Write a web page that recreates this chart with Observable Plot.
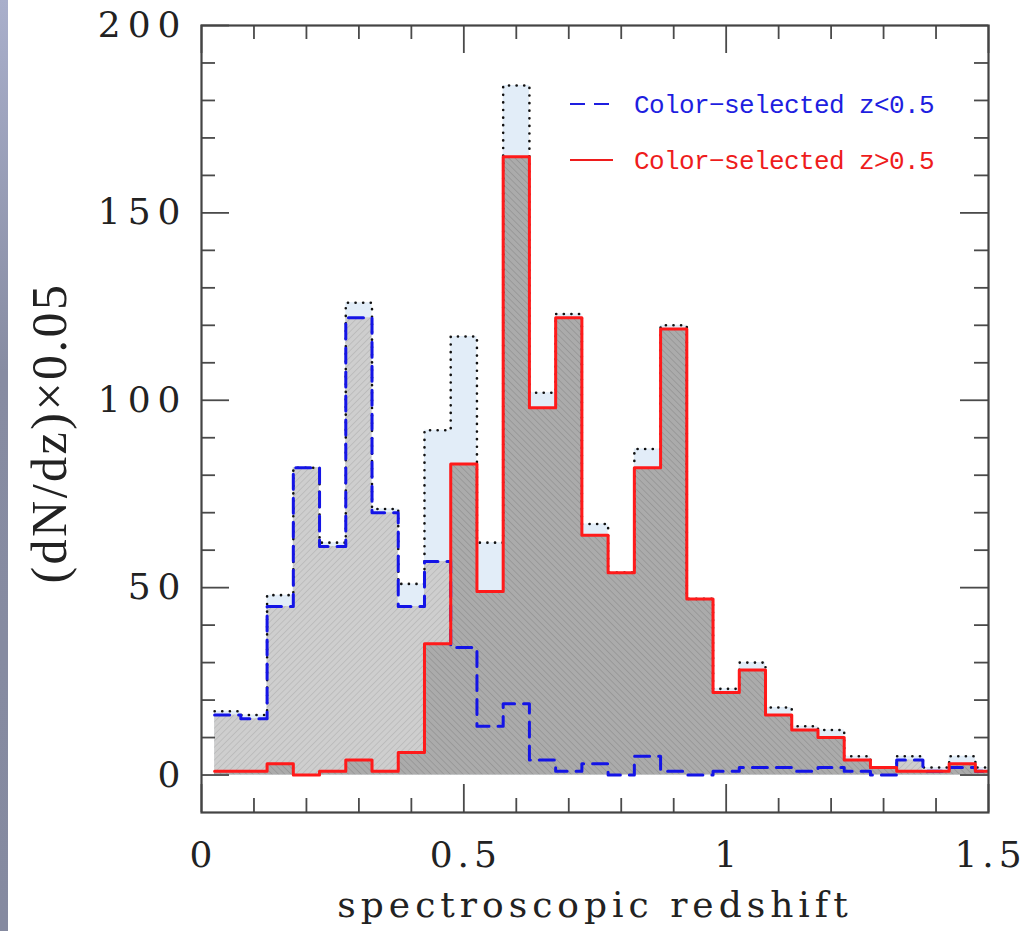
<!DOCTYPE html>
<html>
<head>
<meta charset="utf-8">
<script src="https://cdn.jsdelivr.net/npm/d3@7"></script>
<script src="https://cdn.jsdelivr.net/npm/@observablehq/plot@0.6"></script>
<style>
  html, body { margin: 0; padding: 0; background: #fff; }
  #wrap { position: relative; width: 1027px; height: 931px; overflow: hidden; }
  #stripe { position: absolute; left: 0; top: 0; width: 8px; height: 931px;
    background: linear-gradient(#a9afcb, #878ca2 40%, #858aa0); z-index: 2; }
</style>
</head>
<body>
<div id="wrap"><div id="stripe"></div></div>
<script>
// ---- data ----
const binCenters = [0.05,0.10,0.15,0.20,0.25,0.30,0.35,0.40,0.45,0.50,
                    0.55,0.60,0.65,0.70,0.75,0.80,0.85,0.90,0.95,1.00,
                    1.05,1.10,1.15,1.20,1.25,1.30,1.35,1.40,1.45,1.50];
const totalCounts = [17,16,48,82,62,126,71,51,92,117,
                     62,184,102,123,67,54,87,120,47,23,
                     30,18,13,12,5,2,5,2,5,2];
const lowZCounts  = [16,15,45,82,61,122,70,45,57,34,
                     13,19,4,1,3,0,5,1,0,1,
                     2,2,1,2,1,0,4,1,2,1];
const highZCounts = [1,1,3,0,1,4,1,6,35,83,
                     49,165,98,122,64,54,82,119,47,22,
                     28,16,12,10,4,2,1,1,3,1];
const xTickLabels = [0, 0.5, 1, 1.5];
const yTickLabels = [0, 50, 100, 150, 200];
const xMinorTicks = [0.1,0.2,0.3,0.4,0.6,0.7,0.8,0.9,1.1,1.2,1.3,1.4];
const yMinorTicks = [10,20,30,40,60,70,80,90,110,120,130,140,160,170,180,190];
const legendLabels = ["Color\u2212selected z<0.5", "Color\u2212selected z>0.5"];
const xTitle = "spectroscopic redshift";
const yTitle = "(dN/dz)\u00d70.05";

// ---- layout ----
const W = 1027, H = 931, ML = 201, MR = 39, MT = 25, MB = 119;
const xDom = [0, 1.5], yDom = [-10, 200];
const fw = W - ML - MR, fh = H - MT - MB;
const pxX = (xDom[1] - xDom[0]) / fw;   // data units per pixel
const pxY = (yDom[1] - yDom[0]) / fh;
const majorLen = 28, minorLen = 14;

const halfBin = (binCenters[1] - binCenters[0]) / 2;
function steps(vals) {
  return binCenters.flatMap((c, i) => [
    {x: c - halfBin, y: vals[i]},
    {x: c + halfBin, y: vals[i]}
  ]);
}
const totalPts = steps(totalCounts);
const lowPts = steps(lowZCounts);
const highPts = steps(highZCounts);

const xTicks = [...xTickLabels.map(v => ({v, len: majorLen})), ...xMinorTicks.map(v => ({v, len: minorLen}))];
const yTicks = [...yTickLabels.map(v => ({v, len: majorLen})), ...yMinorTicks.map(v => ({v, len: minorLen}))];

const tickColor = "#4a4a4a";
const plot = Plot.plot({
  width: W, height: H,
  marginLeft: ML, marginRight: MR, marginTop: MT, marginBottom: MB,
  x: {domain: xDom}, y: {domain: yDom},
  style: {background: "transparent", color: "#222"},
  marks: [
    Plot.areaY(totalPts, {x: "x", y1: 0, y2: "y", fill: "#e2edf8", clip: true}),
    Plot.areaY(lowPts, {x: "x", y1: 0, y2: "y", fill: "url(#hatchLight)", clip: true}),
    Plot.areaY(highPts, {x: "x", y1: 0, y2: "y", fill: "url(#hatchDark)", clip: true}),
    Plot.line(totalPts, {x: "x", y: "y", stroke: "#111", strokeWidth: 2.6, strokeDasharray: "0.1 7.5", strokeLinecap: "round", clip: true}),
    Plot.line(lowPts, {x: "x", y: "y", stroke: "#1414e6", strokeWidth: 3, strokeDasharray: "15 9", clip: true}),
    Plot.line(highPts, {x: "x", y: "y", stroke: "#ff1a1a", strokeWidth: 3, clip: true}),
    // inward ticks on all four sides
    Plot.ruleX(xTicks, {x: "v", y1: yDom[0], y2: d => yDom[0] + d.len * pxY, stroke: tickColor, strokeWidth: 1.8}),
    Plot.ruleX(xTicks, {x: "v", y1: yDom[1], y2: d => yDom[1] - d.len * pxY, stroke: tickColor, strokeWidth: 1.8}),
    Plot.ruleY(yTicks, {y: "v", x1: xDom[0], x2: d => xDom[0] + d.len * pxX, stroke: tickColor, strokeWidth: 1.8}),
    Plot.ruleY(yTicks, {y: "v", x1: xDom[1], x2: d => xDom[1] - d.len * pxX, stroke: tickColor, strokeWidth: 1.8}),
    Plot.frame({stroke: "#444", strokeWidth: 2.2}),
    Plot.axisX({ticks: xTickLabels, tickSize: 0, tickPadding: 29, fontSize: 36, fontFamily: "DejaVu Serif",
                tickFormat: d => String(d), label: null, dx: 2}),
    Plot.axisY({ticks: yTickLabels, tickSize: 0, tickPadding: 14, fontSize: 36, fontFamily: "DejaVu Serif",
                tickFormat: d => String(d), label: null}),
    Plot.text([xTitle], {text: d => d, frameAnchor: "bottom", dy: 93, fontSize: 36, fontFamily: "DejaVu Serif",
                textAnchor: "middle", lineAnchor: "middle", fill: "#222"}),
    Plot.text([yTitle], {text: d => d, frameAnchor: "left", dx: -152, dy: 14, rotate: -90, fontSize: 50,
                fontFamily: "Liberation Serif", textAnchor: "middle", lineAnchor: "middle", fill: "#222"})
  ]
});

const svg = d3.select(plot);
svg.style("position", "absolute").style("left", "0px").style("top", "0px");
const defs = svg.insert("defs", ":first-child");
function hatch(id, base, line, angle) {
  const p = defs.append("pattern").attr("id", id).attr("patternUnits", "userSpaceOnUse")
    .attr("width", 4.5).attr("height", 4.5).attr("patternTransform", `rotate(${angle})`);
  p.append("rect").attr("width", 4.5).attr("height", 4.5).attr("fill", base);
  p.append("line").attr("x1", 0).attr("y1", 0).attr("x2", 0).attr("y2", 4.5)
    .attr("stroke", line).attr("stroke-width", 1.6);
}
hatch("hatchLight", "#cecece", "#b9b9b9", 45);
hatch("hatchDark", "#ababab", "#959595", -45);

svg.selectAll('g[aria-label="x-axis tick label"] text').attr("letter-spacing", 5);
svg.selectAll('g[aria-label="y-axis tick label"] text').attr("letter-spacing", 7);
svg.selectAll('g[aria-label="text"] text').attr("letter-spacing", 5);
svg.selectAll('g[aria-label="text"] text').filter(function() { return this.textContent === yTitle; })
  .attr("letter-spacing", 2.5);

// legend
const leg = svg.append("g").attr("font-family", "Liberation Mono").attr("font-size", 26)
  .attr("text-anchor", "start");
const legendStyles = [
  {color: "#1e1ee0", dash: "15 9", y: 104},
  {color: "#ee1c1c", dash: null, y: 160}
];
legendLabels.forEach((lab, i) => {
  const s = legendStyles[i];
  leg.append("line").attr("x1", 570).attr("x2", 613).attr("y1", s.y).attr("y2", s.y)
    .attr("stroke", s.color).attr("stroke-width", i === 0 ? 2.2 : 2).attr("stroke-dasharray", s.dash);
  leg.append("text").attr("x", 634).attr("y", s.y).attr("dy", "0.35em")
    .attr("fill", s.color).attr("letter-spacing", -0.6).text(lab);
});

document.getElementById("wrap").appendChild(plot);
</script>
</body>
</html>
